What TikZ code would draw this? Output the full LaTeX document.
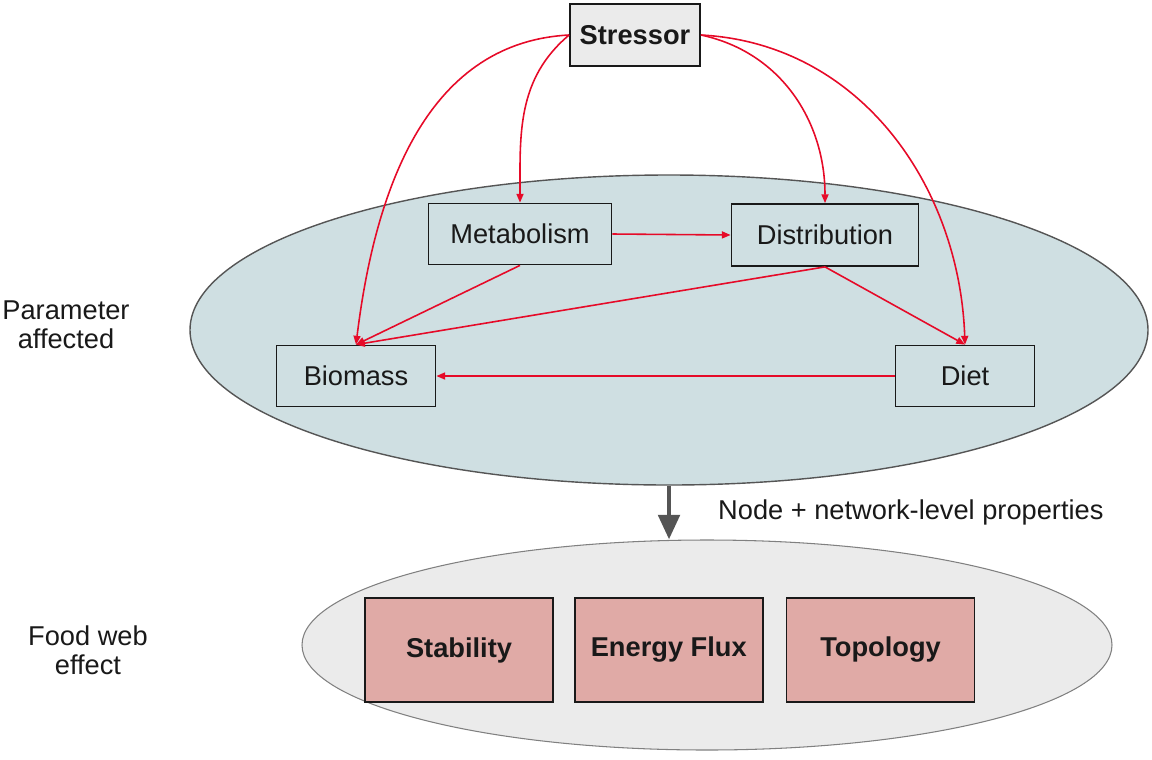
\documentclass[tikz,border=0pt]{standalone}
\usepackage{fontspec}
\setmainfont{Liberation Sans}
\usepackage{xcolor}
\usepackage{tikz}
\usetikzlibrary{shapes.geometric, positioning, arrows.meta, calc}

\definecolor{paramfill}{HTML}{CFDFE2}
\definecolor{webfill}{HTML}{EBEBEB}
\definecolor{effectfill}{HTML}{E0AAA6}
\definecolor{linkred}{HTML}{E60A28}
\definecolor{edgegray}{HTML}{555555}

\begin{document}
\begin{tikzpicture}[
    every node/.style={font=\fontsize{15.5}{16.5}\selectfont, text=black!90},
    box/.style={draw=black!90, line width=1pt, rectangle, align=center, minimum height=1.22cm, inner sep=0pt},
    effect/.style={draw=black!90, line width=1pt, rectangle, align=center, fill=effectfill, minimum width=3.76cm, minimum height=2.08cm, font=\fontsize{15.5}{16.5}\selectfont\bfseries},
    link/.style={draw=linkred, line width=0.9pt, -{Triangle[length=5pt,width=4pt]}}
]
    \useasboundingbox (0,0) rectangle (23.04,-15.18);

    % ================= PARAMETER LEVEL =================
    \node[ellipse, draw=edgegray, line width=0.8pt, fill=paramfill, minimum width=19.16cm, minimum height=6.2cm] (param) at (13.38,-6.6) {};
    \node[align=center] (paramlbl) at (1.32,-6.5) {Parameter\\affected};

    \node[box, fill=webfill, minimum width=2.6cm, minimum height=1.24cm, font=\fontsize{15.5}{16.5}\selectfont\bfseries] (str) at (12.7,-0.7) {Stressor};

    \node[box, minimum width=3.66cm] (met) at (10.4,-4.68) {Metabolism};
    \node[box, minimum width=3.74cm, minimum height=1.24cm] (dis) at (16.5,-4.7) {Distribution};
    \node[box, minimum width=3.18cm] (bio) at (7.12,-7.52) {Biomass};
    \node[box, minimum width=2.78cm] (diet) at (19.3,-7.52) {Diet};

    % Stressor acts on every parameter
    \draw[link] (str.west) to[out=183, in=83] (bio.north);
    \draw[link] (str.west) to[out=220, in=90] (met.north);
    \draw[link] (str.east) to[out=-12, in=90] (dis.north);
    \draw[link] (str.east) to[out=-3, in=92] (diet.north);

    % Links between parameters
    \draw[link] (met.east) -- (dis.west);
    \draw[link] (met.south) -- (bio.north);
    \draw[link] (dis.south) -- (bio.north);
    \draw[link] (dis.south) -- (diet.north);
    \draw[link] (diet.west) -- (bio.east);

    % ================= FOOD WEB LEVEL =================
    \node[ellipse, draw=gray, line width=0.6pt, fill=webfill, minimum width=16.2cm, minimum height=4.2cm] (web) at (14.14,-12.9) {};
    \node[align=center] (weblbl) at (1.76,-13.0) {Food web\\effect};

    \node[effect] (stab) at (9.18,-13.0) {Stability};
    \node[effect, right=0.4cm of stab] (flux) {Energy Flux};
    \node[effect, right=0.44cm of flux] (topo) {Topology};

    % Level transition
    \draw[draw=edgegray, line width=2.8pt, -{Triangle[length=14pt,width=12pt]}] (param.south) -- (param.south |- web.north);
    \node[anchor=west] (proplbl) at (14.24,-10.24) {Node + network-level properties};

\end{tikzpicture}
\end{document}
